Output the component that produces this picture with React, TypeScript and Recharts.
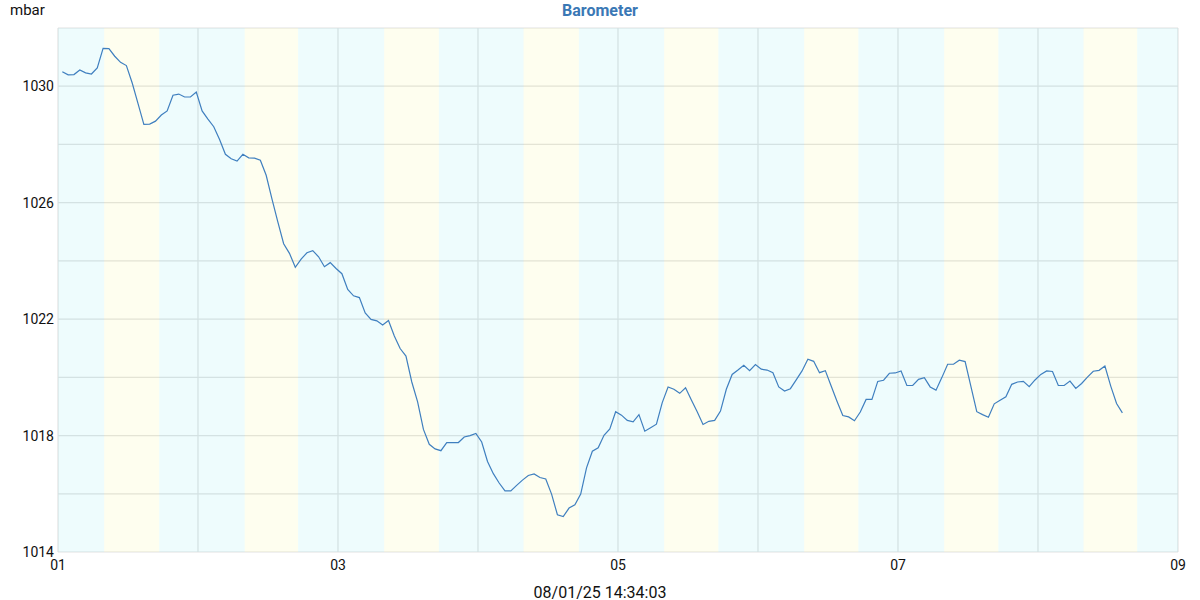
import { LineChart, Line, XAxis, YAxis, CartesianGrid, ReferenceArea } from "recharts";

// day labels on the x axis (one tick per midnight)
const days = ["01", "02", "03", "04", "05", "06", "07", "08", "09"];

// approximate sunrise / sunset (hour of day) for each day shown
const sunriseHour = [7.9, 8.0, 7.9, 7.8, 7.9, 7.9, 7.9, 7.8];
const sunsetHour = [17.35, 17.15, 17.3, 17.3, 17.2, 17.2, 17.2, 17.0];

const yTicks = [1014, 1016, 1018, 1020, 1022, 1024, 1026, 1028, 1030, 1032];
const yLabelled = [1014, 1018, 1022, 1026, 1030];

// hourly readings, first one just before 01:00
const firstReadingHour = 0.74;
const readingStepHours = 0.9985;

const pressure = [
	1030.5, 1030.39, 1030.4, 1030.56, 1030.46, 1030.42, 1030.63, 1031.3, 1031.29, 1031.03,
	1030.82, 1030.71, 1030.11, 1029.4, 1028.69, 1028.7, 1028.8, 1029.01, 1029.15, 1029.69,
	1029.73, 1029.63, 1029.63, 1029.8, 1029.15, 1028.87, 1028.61, 1028.17, 1027.66, 1027.51,
	1027.43, 1027.66, 1027.54, 1027.53, 1027.46, 1026.94, 1026.12, 1025.34, 1024.59, 1024.26,
	1023.78, 1024.06, 1024.28, 1024.35, 1024.14, 1023.8, 1023.94, 1023.74, 1023.56, 1023.02,
	1022.8, 1022.74, 1022.21, 1021.99, 1021.94, 1021.8, 1021.95, 1021.42, 1020.99, 1020.73,
	1019.84, 1019.16, 1018.21, 1017.7, 1017.54, 1017.48, 1017.76, 1017.76, 1017.76, 1017.95,
	1018.0, 1018.07, 1017.78, 1017.11, 1016.69, 1016.37, 1016.1, 1016.1, 1016.29, 1016.47,
	1016.63, 1016.68, 1016.56, 1016.51, 1015.99, 1015.28, 1015.22, 1015.51, 1015.62, 1015.99,
	1016.89, 1017.46, 1017.58, 1018.01, 1018.23, 1018.82, 1018.7, 1018.52, 1018.47, 1018.72,
	1018.15, 1018.27, 1018.39, 1019.13, 1019.67, 1019.59, 1019.45, 1019.64, 1019.22, 1018.82,
	1018.38, 1018.49, 1018.52, 1018.84, 1019.59, 1020.1, 1020.25, 1020.41, 1020.23, 1020.44,
	1020.28, 1020.25, 1020.16, 1019.67, 1019.53, 1019.61, 1019.91, 1020.22, 1020.62, 1020.55,
	1020.16, 1020.23, 1019.7, 1019.18, 1018.69, 1018.64, 1018.51, 1018.81, 1019.24, 1019.24,
	1019.86, 1019.9, 1020.14, 1020.15, 1020.22, 1019.72, 1019.72, 1019.93, 1019.99, 1019.67,
	1019.56, 1019.99, 1020.45, 1020.45, 1020.59, 1020.54, 1019.68, 1018.82, 1018.72, 1018.63,
	1019.09, 1019.21, 1019.33, 1019.76, 1019.84, 1019.86, 1019.68, 1019.91, 1020.1, 1020.22,
	1020.2, 1019.72, 1019.72, 1019.87, 1019.62, 1019.79, 1020.01, 1020.21, 1020.24, 1020.39,
	1019.7, 1019.1, 1018.78,
];

// bands are drawn over the grid, so they are tinted with low opacity
// to keep the grid lines visible through them
const nightColor = "rgb(85,225,235)";
const dayColor = "rgb(245,245,100)";
const bandOpacity = 0.1;
const gridColor = "#e2e2e2";
const lineColor = "#3f7fbf";
const font = "Roboto, 'Noto Sans', sans-serif";

const data = pressure.map((mbar, i) => ({
	hour: firstReadingHour + i * readingStepHours,
	mbar,
}));

const dayTicks = days.map((_, i) => i * 24);
const endHour = dayTicks[dayTicks.length - 1];

// night / daylight bands
const bands: Array<{ from: number; to: number; fill: string }> = [];
let cursor = 0;
sunriseHour.forEach((rise, i) => {
	const start = i * 24 + rise;
	const end = i * 24 + sunsetHour[i];
	bands.push({ from: cursor, to: start, fill: nightColor });
	bands.push({ from: start, to: end, fill: dayColor });
	cursor = end;
});
bands.push({ from: cursor, to: endHour, fill: nightColor });

export default function App() {
	return (
		<div
			style={{
				position: "absolute",
				left: 0,
				top: 0,
				width: 1200,
				height: 600,
				background: "#fff",
				fontFamily: font,
			}}
		>
			<div
				style={{
					position: "absolute",
					left: 0,
					width: 1200,
					top: 1,
					textAlign: "center",
					fontSize: 16,
					fontWeight: "bold",
					color: "#3a78b5",
				}}
			>
				Barometer
			</div>
			<div style={{ position: "absolute", left: 10, top: 1, fontSize: 15, color: "#111" }}>
				mbar
			</div>
			<LineChart
				width={1200}
				height={600}
				data={data}
				margin={{ top: 28, right: 22, bottom: 18, left: 0 }}
			>
				<CartesianGrid stroke={gridColor} strokeWidth={1.2} />
				{bands.map((b, i) => (
					<ReferenceArea
						key={`band-${i}`}
						x1={b.from}
						x2={b.to}
						y1={1014}
						y2={1032}
						fill={b.fill}
						fillOpacity={bandOpacity}
						stroke="none"
						ifOverflow="hidden"
					/>
				))}
				<XAxis
					dataKey="hour"
					type="number"
					domain={[0, endHour]}
					ticks={dayTicks}
					tickFormatter={(v: number) => {
						const i = Math.round(v / 24);
						return i % 2 === 0 ? days[i] : "";
					}}
					axisLine={false}
					tickLine={false}
					tickSize={0}
					tickMargin={8}
					height={30}
					interval={0}
					tick={{ fill: "#111", fontSize: 14, fontFamily: font }}
				/>
				<YAxis
					type="number"
					domain={[1014, 1032]}
					ticks={yTicks}
					tickFormatter={(v: number) => (yLabelled.includes(v) ? String(v) : "")}
					axisLine={false}
					tickLine={false}
					tickSize={0}
					tickMargin={4}
					width={58}
					interval={0}
					tick={{ fill: "#111", fontSize: 14, fontFamily: font }}
				/>
				<Line
					type="linear"
					dataKey="mbar"
					stroke={lineColor}
					strokeWidth={1.2}
					dot={false}
					isAnimationActive={false}
				/>
			</LineChart>
			<div
				style={{
					position: "absolute",
					left: 0,
					width: 1200,
					top: 583,
					textAlign: "center",
					fontSize: 16,
					color: "#111",
				}}
			>
				08/01/25 14:34:03
			</div>
		</div>
	);
}
